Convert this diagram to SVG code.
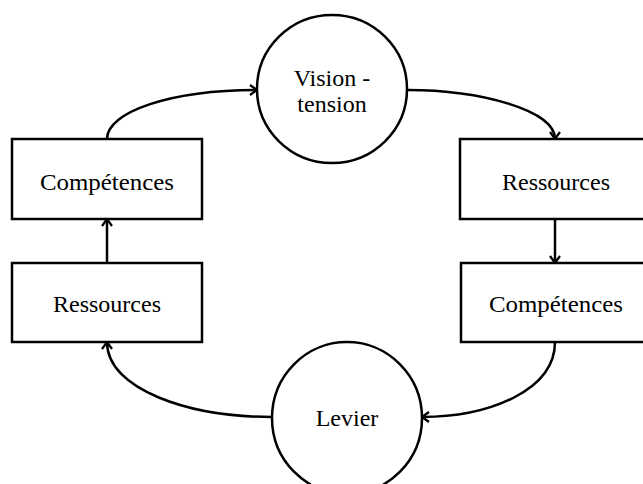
<svg xmlns="http://www.w3.org/2000/svg" width="643" height="484" viewBox="0 0 643 484">
<defs>
<style>
.box{fill:#fff;stroke:#000;stroke-width:2.5}
.circ{fill:#fff;stroke:#000;stroke-width:2.5}
.lbl{font-family:"Liberation Serif","Times New Roman",serif;font-size:24px;fill:#000;text-anchor:middle}
.con{fill:none;stroke:#000;stroke-width:2.5;marker-end:url(#arr)}
</style>
<marker id="arr" viewBox="0 0 12 12" refX="11" refY="6" markerWidth="12" markerHeight="12" markerUnits="userSpaceOnUse" orient="auto">
<path d="M4,1 L11,6 L4,11" fill="none" stroke="#000" stroke-width="2.2"/>
</marker>
</defs>
<rect width="643" height="484" fill="#fff"/>
<g id="connectors">
<path class="con" d="M107,139 C107,112 170,90 257,90"/>
<path class="con" d="M407,90 C480,90 555,110 555,139"/>
<path class="con" d="M555,219 L555,263"/>
<path class="con" d="M555,342 C555,390 490,417 422,417"/>
<path class="con" d="M272,417 C190,417 107,390 107,342"/>
<path class="con" d="M107,263 L107,219"/>
</g>
<g id="vision">
<ellipse class="circ" cx="332" cy="89" rx="75" ry="74"/>
<text class="lbl" x="332" y="86">Vision -</text>
<text class="lbl" x="332" y="112">tension</text>
</g>
<g id="competences-left">
<rect class="box" x="12" y="139" width="190" height="80"/>
<text class="lbl" x="107" y="190" textLength="134" lengthAdjust="spacingAndGlyphs">Compétences</text>
</g>
<g id="ressources-left">
<rect class="box" x="12" y="263" width="190" height="79"/>
<text class="lbl" x="107" y="312">Ressources</text>
</g>
<g id="ressources-right">
<rect class="box" x="460" y="139" width="195" height="80"/>
<text class="lbl" x="556" y="190">Ressources</text>
</g>
<g id="competences-right">
<rect class="box" x="461" y="263" width="195" height="79"/>
<text class="lbl" x="556" y="312" textLength="134" lengthAdjust="spacingAndGlyphs">Compétences</text>
</g>
<g id="levier">
<ellipse class="circ" cx="347" cy="418" rx="75" ry="76"/>
<text class="lbl" x="347" y="426">Levier</text>
</g>
</svg>
